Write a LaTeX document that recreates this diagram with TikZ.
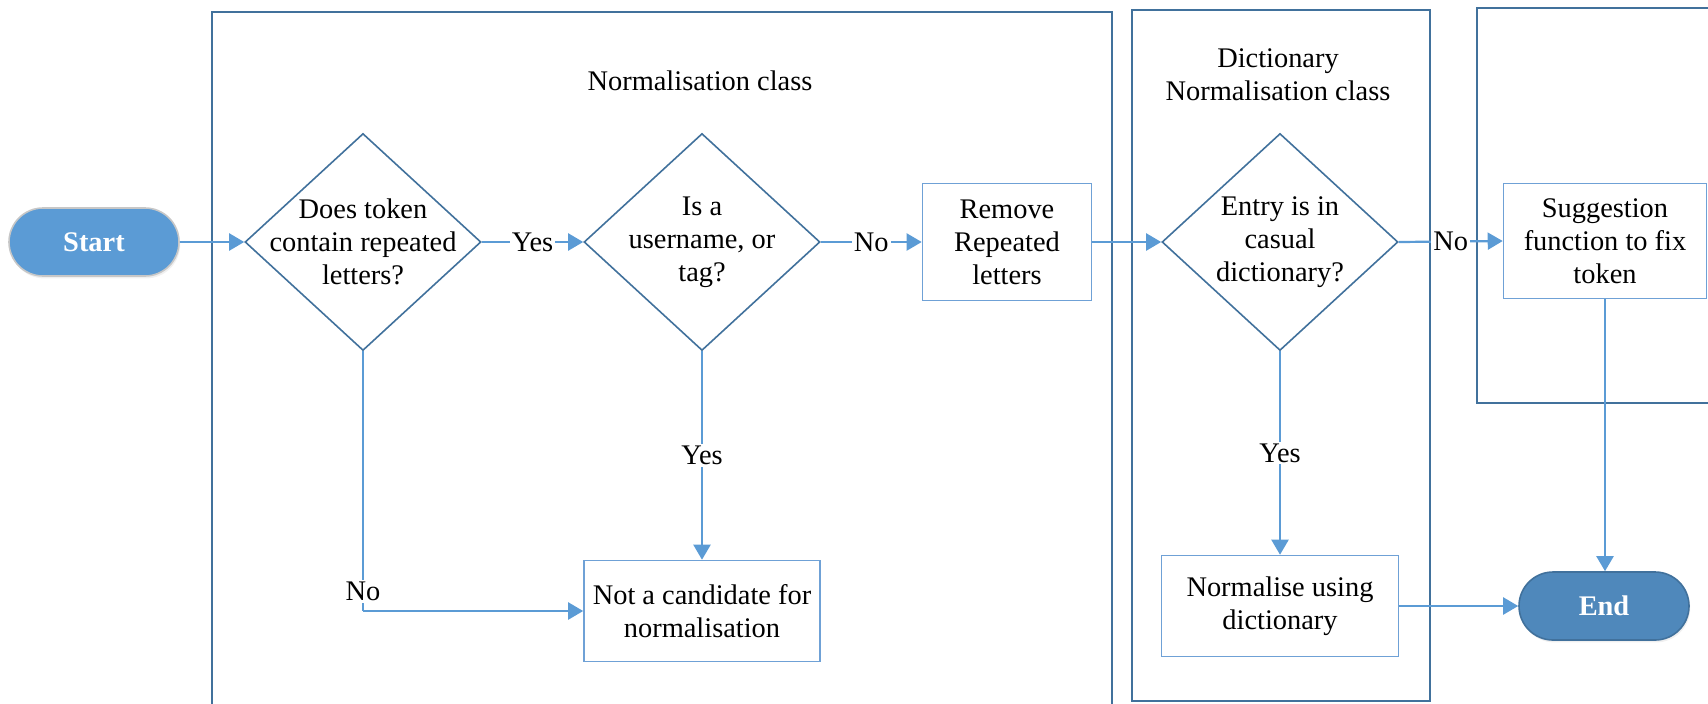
\documentclass[tikz,border=0pt]{standalone}
\usepackage{fontspec}
\setmainfont{Liberation Serif}
\usetikzlibrary{shapes.geometric,shapes.misc,arrows.meta,shadows}
\definecolor{framecol}{HTML}{41719C}
\definecolor{linecol}{HTML}{5B9BD5}
\definecolor{boxcol}{HTML}{6FA1D6}
\definecolor{startfill}{HTML}{5B9BD5}
\definecolor{endfill}{HTML}{4F88BB}
\tikzset{
  txt/.style={font=\fontsize{14.2}{16.5}\selectfont, align=center, inner sep=0pt},
  frame/.style={draw=framecol, line width=1pt},
  decision/.style={shape=diamond, draw=framecol, line width=0.8pt, inner sep=0pt,
    minimum width=118pt, minimum height=108.5pt},
  procbox/.style={rectangle, draw=boxcol, line width=0.8pt, inner sep=0pt, fill=white,
    font=\fontsize{14.2}{16.5}\selectfont, align=center},
  terminal/.style={rounded rectangle, minimum width=85pt, minimum height=34pt,
    inner sep=0pt, text=white, font=\fontsize{14.2}{16.5}\selectfont\bfseries,
    drop shadow={opacity=0.12, shadow xshift=0.6pt, shadow yshift=-1.2pt}},
  flow/.style={draw=linecol, line width=1.1pt, -{Triangle[length=7.5pt,width=8.5pt]}},
  plain/.style={draw=linecol, line width=1.1pt},
  lbl/.style={fill=white, inner sep=1pt, font=\fontsize{14.2}{16.5}\selectfont}
}
\begin{document}
\begin{tikzpicture}[x=0.5pt,y=-0.5pt]
\useasboundingbox (0,0) rectangle (1708,703);

% class frames
\draw[frame] (212,712) -- (212,12) -- (1112,12) -- (1112,712);
\draw[frame] (1132,10) rectangle (1430,701);
\draw[frame] (1720,8) -- (1477,8) -- (1477,403) -- (1720,403);

\node[txt] (t1) at (700,81) {Normalisation class};
\node[txt] (t2) at (1278,75) {Dictionary\\Normalisation class};

% terminals
\node[terminal, fill=startfill, draw=black!22, line width=0.8pt] (start) at (94,242) {Start};
\node[terminal, fill=endfill, draw=framecol, line width=0.8pt] (end) at (1604,606) {End};

% decisions
\node[decision] (d1) at (363,242) {};
\node[txt] (d1t) at (d1) {Does token\\contain repeated\\letters?};
\node[decision] (d2) at (702,242) {};
\node[txt] (d2t) at (d2) {Is a\\username, or\\tag?};
\node[decision] (d3) at (1280,242) {};
\node[txt] (d3t) at (d3) {Entry is in\\casual\\dictionary?};

% processes
\node[procbox, minimum width=84.5pt, minimum height=58.5pt] (rm) at (1007,242) {Remove\\Repeated\\letters};
\node[procbox, minimum width=118pt, minimum height=50.5pt] (nc) at (702,611) {Not a candidate for\\normalisation};
\node[procbox, minimum width=118.5pt, minimum height=50.5pt] (nd) at (1280,606) {Normalise using\\dictionary};
\node[procbox, minimum width=101.5pt, minimum height=57.5pt] (sg) at (1605,241) {Suggestion\\function to fix\\token};

% connectors
\coordinate (c1) at (d1.south |- nc.west);
\draw[flow] (start.east) -- (d1.west);
\draw[flow] (d1.east) -- node[lbl] {Yes} (d2.west);
\draw[flow] (d2.east) -- node[lbl] {No} (rm.west);
\draw[flow] (rm.east) -- (d3.west);
\draw[flow] (d3.east) -- node[lbl] {No} (sg.west);
\draw[flow] (d2.south) -- node[lbl] {Yes} (nc.north);
\draw[flow] (d3.south) -- node[lbl] {Yes} (nd.north);
\draw[flow] (nd.east) -- (end.west);
\draw[flow] (sg.south) -- (sg.south |- end.north);
\draw[plain] (d1.south) -- node[lbl, pos=0.925] {No} (c1);
\draw[flow] (c1) -- (nc.west);
\end{tikzpicture}
\end{document}
